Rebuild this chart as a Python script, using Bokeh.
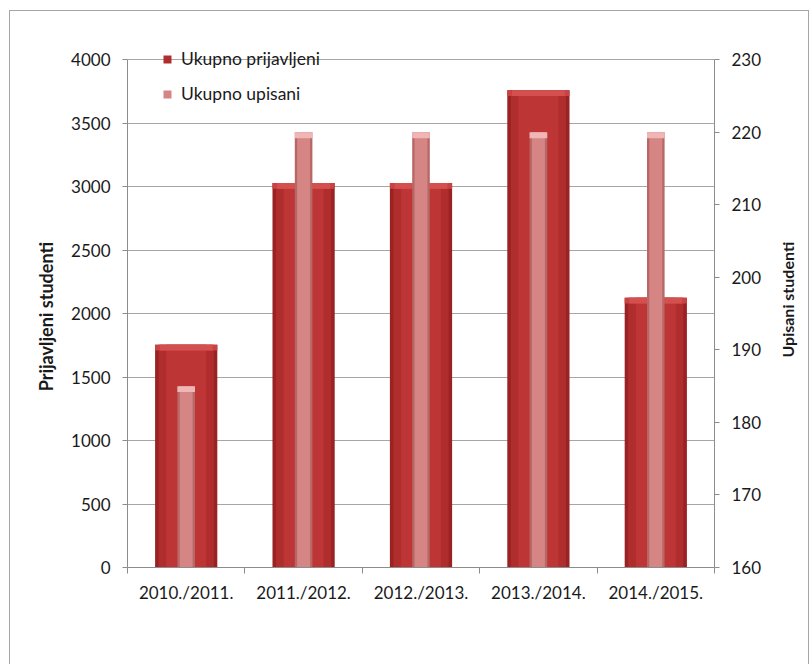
import math
from bokeh.plotting import figure
from bokeh.models import Range1d, LinearAxis, FixedTicker, Legend, LegendItem
from bokeh.embed import file_html
from bokeh.resources import INLINE

# ---- data ----
categories = ["2010./2011.", "2011./2012.", "2012./2013.", "2013./2014.", "2014./2015."]
prijavljeni = [1755, 3030, 3030, 3760, 2125]
upisani = [185, 220, 220, 220, 220]
left_ticks = [0, 500, 1000, 1500, 2000, 2500, 3000, 3500, 4000]
right_ticks = [160, 170, 180, 190, 200, 210, 220, 230]
series_names = ["Ukupno prijavljeni", "Ukupno upisani"]
left_label = "Prijavljeni studenti"
right_label = "Upisani studenti"

FONT = "Lato"
TXT = "#1a1a1a"
AX = "#8c8c8c"
TICK_FS = "17px"
NBSP = "\u00a0"

# headroom above the top tick so the legend (which sits on the top gridline) is not clipped
HEAD = 0.04
l0, l1 = left_ticks[0], left_ticks[-1]
r0, r1 = right_ticks[0], right_ticks[-1]

x = [i + 0.5 for i in range(len(categories))]
bounds = list(range(len(categories) + 1))

p = figure(width=800, height=654, x_range=Range1d(0, len(categories)),
           y_range=Range1d(l0, l0 + (l1 - l0) * (1 + HEAD)),
           output_backend="svg", toolbar_location=None,
           min_border_left=117, min_border_right=96, min_border_top=28, min_border_bottom=98)
p.extra_y_ranges = {"right": Range1d(r0, r0 + (r1 - r0) * (1 + HEAD))}
p.styles = {"margin-left": "9px", "margin-top": "10px",
            "border-left": "1px solid #a6a6a6", "border-top": "1px solid #a6a6a6",
            "border-right": "1px solid #a6a6a6"}
p.outline_line_color = None
p.background_fill_color = "white"
p.border_fill_color = "white"

# grid
p.xgrid.grid_line_color = None
p.ygrid.ticker = FixedTicker(ticks=left_ticks)
p.ygrid.grid_line_color = "#a6a6a6"
p.ygrid.grid_line_width = 1

# left axis
ya = p.yaxis[0]
ya.ticker = FixedTicker(ticks=left_ticks)
ya.bounds = (l0, l1)
ya.axis_line_color = AX
ya.major_tick_line_color = AX
ya.major_tick_out = 5
ya.major_tick_in = 0
ya.minor_tick_line_color = None
ya.major_label_text_font = FONT
ya.major_label_text_font_size = TICK_FS
ya.major_label_text_color = TXT
ya.major_label_standoff = 12
ya.axis_label = left_label + NBSP * 6
ya.axis_label_text_font = FONT
ya.axis_label_text_font_size = "18px"
ya.axis_label_text_font_style = "bold"
ya.axis_label_text_color = TXT
ya.axis_label_standoff = 11

# right axis
ra = LinearAxis(y_range_name="right", ticker=FixedTicker(ticks=right_ticks))
ra.bounds = (r0, r1)
ra.axis_line_color = AX
ra.major_tick_line_color = AX
ra.major_tick_out = 5
ra.major_tick_in = 0
ra.minor_tick_line_color = None
ra.major_label_text_font = FONT
ra.major_label_text_font_size = TICK_FS
ra.major_label_text_color = TXT
ra.major_label_standoff = 12
ra.axis_label_text_font = FONT
ra.axis_label_text_font_size = "16px"
ra.axis_label_text_font_style = "bold"
ra.axis_label_text_color = TXT
ra.axis_label_standoff = 23
try:
    ra.axis_label_align = "start"
    ra.axis_label_orientation = math.pi / 2
    ra.axis_label = NBSP * 54 + right_label
except Exception:
    ra.axis_label = right_label
p.add_layout(ra, "right")

# x axis
xa = p.xaxis[0]
xa.ticker = FixedTicker(ticks=x, minor_ticks=bounds)
xa.major_label_overrides = {xi: c for xi, c in zip(x, categories)}
xa.axis_line_color = AX
xa.major_tick_line_color = None
xa.major_tick_out = 0
xa.major_tick_in = 0
xa.minor_tick_line_color = AX
xa.minor_tick_out = 6
xa.minor_tick_in = 0
xa.major_label_text_font = FONT
xa.major_label_text_font_size = TICK_FS
xa.major_label_text_color = TXT
xa.major_label_standoff = 8

# ---- red bars (bevel-like layers) ----
red_cap = [v - 45 for v in prijavljeni]
p.vbar(x=x, top=prijavljeni, bottom=0, width=0.53, fill_color="#9a2222", line_color=None)
r_red = p.vbar(x=x, top=prijavljeni, bottom=0, width=0.47, fill_color="#b02d2d", line_color=None)
p.vbar(x=x, top=prijavljeni, bottom=0, width=0.34, fill_color="#bd3635", line_color=None)
p.vbar(x=x, top=prijavljeni, bottom=red_cap, width=0.53, fill_color="#c94342", line_color=None)
p.vbar(x=x, top=prijavljeni, bottom=red_cap, width=0.45, fill_color="#d4504e", line_color=None)

# ---- pink bars ----
pink_base = [r0] * len(upisani)
pink_cap = [v - 0.8 for v in upisani]
p.vbar(x=x, top=upisani, bottom=pink_base, width=0.15, fill_color="#b86767",
       line_color=None, y_range_name="right")
r_pink = p.vbar(x=x, top=upisani, bottom=pink_base, width=0.11, fill_color="#d68585",
                line_color=None, y_range_name="right")
p.vbar(x=x, top=upisani, bottom=pink_cap, width=0.15, fill_color="#f0b6b6",
       line_color=None, y_range_name="right")

legend = Legend(items=[LegendItem(label=series_names[0], renderers=[r_red]),
                       LegendItem(label=series_names[1], renderers=[r_pink])],
                location=(35, 463))
legend.background_fill_alpha = 0
legend.border_line_color = None
legend.padding = 0
legend.margin = 0
legend.spacing = 14
legend.glyph_width = 10
legend.glyph_height = 10
legend.label_height = 20
legend.label_standoff = 9
legend.label_text_font = FONT
legend.label_text_font_size = "17.5px"
legend.label_text_color = TXT
p.add_layout(legend, "center")

open("out.html", "w").write(file_html(p, INLINE))
